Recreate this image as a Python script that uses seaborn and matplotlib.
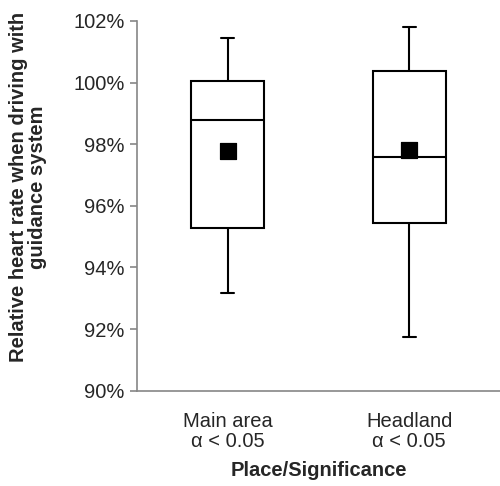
import numpy as np
import pandas as pd
import seaborn as sns
import matplotlib.pyplot as plt

# values (percent)
places = ["Main area\nα < 0.05", "Headland\nα < 0.05"]
whisker_low = [93.18, 91.74]
q1 = [95.28, 95.43]
median = [98.78, 97.57]
q3 = [100.05, 100.37]
whisker_high = [101.46, 101.80]
means = [97.77, 97.82]

# five-number summary per place, so the boxplot reproduces the quartiles exactly
rows = []
for i, p in enumerate(places):
    for v in (whisker_low[i], q1[i], median[i], q3[i], whisker_high[i]):
        rows.append({"place": p, "value": v})
df = pd.DataFrame(rows)
mean_df = pd.DataFrame({"place": places, "value": means})

sns.set_style("white")
plt.rcParams["font.family"] = ["Liberation Sans", "DejaVu Sans"]

fig = plt.figure(figsize=(5, 4.86), dpi=100)
ax = fig.add_axes([0.274, 0.196, 0.726, 0.761])

box_w = 0.4
sns.boxplot(data=df, x="place", y="value", whis=(0, 100), width=box_w,
            color="white", linecolor="black", linewidth=1.5, ax=ax)

# narrow caps like the original
cap_half = 0.035
for ln in ax.lines:
    xd, yd = np.asarray(ln.get_xdata(), float), np.asarray(ln.get_ydata(), float)
    if len(xd) == 2 and yd[0] == yd[1]:
        span = abs(xd[1] - xd[0])
        if 0 < span < box_w * 0.9:
            c = xd.mean()
            ln.set_xdata([c - cap_half, c + cap_half])

sns.scatterplot(data=mean_df, x="place", y="value", marker="s", s=120,
                color="black", edgecolor="black", zorder=5, ax=ax)

ax.set_ylim(90, 102)
ax.set_xlim(-0.5, 1.5)
ax.set_yticks(np.arange(90, 103, 2))
ax.set_yticklabels([f"{v:.0f}%" for v in np.arange(90, 103, 2)], fontsize=14.5)
ax.set_xticks([0, 1])
ax.set_xticklabels(places, fontsize=14.5, linespacing=1.1)
ax.set_xticks([-0.5, 0.5, 1.5], minor=True)
ax.tick_params(axis="x", which="major", length=0, pad=15)
ax.tick_params(axis="x", which="minor", length=5, color="#868686", width=1.2)
ax.tick_params(axis="y", length=5, color="#868686", width=1.2, left=True, pad=4)

ax.set_xlabel("Place/Significance", fontsize=14.5, fontweight="bold", labelpad=7)
ax.set_ylabel("Relative heart rate when driving with\nguidance system",
              fontsize=14.5, fontweight="bold", linespacing=1.0)
ax.yaxis.set_label_coords(-0.248, 0.55)

for side in ["top", "right"]:
    ax.spines[side].set_visible(False)
for side in ["left", "bottom"]:
    ax.spines[side].set_color("#868686")
    ax.spines[side].set_linewidth(1.2)

fig.savefig("out.png", dpi=100)
